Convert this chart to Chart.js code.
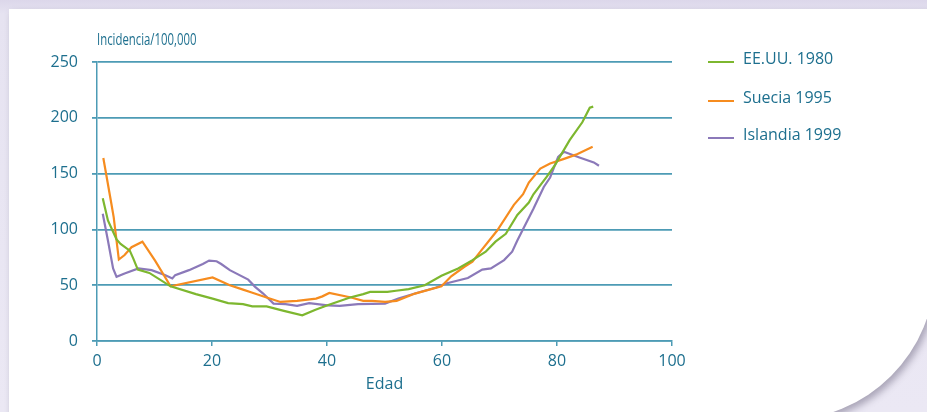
<!DOCTYPE html>
<html>
<head>
<meta charset="utf-8">
<script src="https://cdn.jsdelivr.net/npm/chart.js@4.4.1/dist/chart.umd.min.js"></script>
<style>
  html, body { margin: 0; padding: 0; }
  body {
    width: 927px; height: 412px; overflow: hidden; position: relative;
    background: linear-gradient(180deg, #dcd7ea 0px, #e6e3f1 14px, #ebe8f4 100%);
  }
  #panel {
    position: absolute; left: 9px; top: 9px; width: 926px; height: 411px;
    background: #fff;
    border-bottom-right-radius: 150px;
    box-shadow: 3px 4px 7px rgba(90, 85, 110, 0.45);
  }
  #wrap { position: absolute; left: 0; top: 0; width: 927px; height: 412px; }
</style>
</head>
<body>
<div id="panel"></div>
<div id="wrap"><canvas id="incChart" width="927" height="412"></canvas></div>
<script>
// Age (x) and incidence per 100,000 (y)
const ageUS = [1, 1.9, 3.4, 4.1, 5.7, 6.3, 7.1, 9.1, 12.8, 17.2, 20.1, 22.8, 25.4, 27, 29.5, 32.5, 35.7, 38, 40.1, 44, 46.3, 47.5, 50.5, 52, 54.2, 57, 59.9, 62.8, 65.3, 67.6, 69.3, 71.1, 73.1, 75.1, 75.9, 78.2, 79.7, 82.2, 84.4, 85.7, 86.3];
const incUS = [128, 108, 91, 87, 81, 74, 64, 61, 49, 42, 38, 34, 33, 31, 31, 27, 23, 28, 32, 39, 42, 44, 44, 45, 46.5, 50, 58.5, 65, 72.5, 80, 89, 96, 113, 124, 131.5, 147, 158, 180, 196, 209, 210];

const ageSE = [1.1, 2.5, 2.9, 3.8, 4.8, 6, 7.9, 10.1, 12.8, 20.1, 23.1, 25.4, 26.9, 29.5, 31.9, 34.8, 38.1, 39.2, 40.4, 44.2, 46.3, 47.8, 50.1, 52.1, 55.3, 59.9, 61.6, 63.9, 65.3, 66.8, 69.6, 72.5, 74.1, 75.1, 77.1, 78.8, 81.1, 83.3, 86.2];
const incSE = [164, 123, 111, 73, 77, 84, 89, 72, 49, 57, 50, 46, 43.5, 39, 35, 36, 38, 40, 43, 39, 36, 36, 35, 36, 42.5, 49, 58, 66.5, 71, 81, 99, 122, 131.5, 142, 154.5, 159, 163, 167, 174];

const ageIS = [1, 1.9, 2.8, 3.4, 4.8, 7.2, 9.5, 11.9, 13.1, 13.6, 16, 18.4, 19.5, 20.8, 21.6, 23.1, 26.3, 27.5, 28.9, 30.7, 32.8, 34.8, 36.9, 40.1, 42.2, 45.4, 50.1, 52.4, 55.3, 59, 60.7, 64.5, 67, 68.5, 70.8, 72.2, 73.1, 75.9, 77.7, 78.8, 80.2, 81.2, 83.9, 86.4, 87.3];
const incIS = [114, 90, 65, 57.5, 60.5, 65, 63.5, 59, 56, 59, 63.5, 69, 72, 71.5, 69, 63.5, 55, 48.5, 42.5, 33.5, 33, 31.5, 34, 32, 31.5, 33, 33.5, 38, 42.5, 48, 51.5, 56.5, 64, 65, 72.5, 80, 90, 118.5, 138, 146.5, 165, 169.5, 164.5, 160, 157];

const seriesNames = ['EE.UU. 1980', 'Suecia 1995', 'Islandia 1999'];
const yTicks = [0, 50, 100, 150, 200, 250];
const xTicks = [0, 20, 40, 60, 80, 100];
const yTitle = 'Incidencia/100,000';
const xTitle = 'Edad';

const teal = '#1d6f8e';
const gridTeal = '#4d9bb5';
const colors = ['#7db72f', '#f68c1f', '#8b79b9'];
const fontFamily = "'Open Sans', sans-serif";

function toPoints(xs, ys) {
    return xs.map((x, i) => ({ x: x, y: ys[i] }));
}

// y axis caption at the top and legend on the right
const extras = {
    id: 'extras',
    afterDraw(chart) {
        const ctx = chart.ctx;
        const area = chart.chartArea;
        ctx.save();
        ctx.fillStyle = teal;
        ctx.textBaseline = 'middle';
        ctx.textAlign = 'left';
        // condensed look of the original caption
        ctx.save();
        ctx.translate(area.left, 40);
        ctx.scale(0.71, 1);
        ctx.font = '16px ' + fontFamily;
        ctx.fillText(yTitle, 0, 0);
        ctx.restore();

        const legendY = [59, 98, 135];
        ctx.font = '16px ' + fontFamily;
        chart.data.datasets.forEach((ds, i) => {
            ctx.strokeStyle = ds.borderColor;
            ctx.lineWidth = 2;
            ctx.beginPath();
            ctx.moveTo(708, legendY[i] + 3);
            ctx.lineTo(734, legendY[i] + 3);
            ctx.stroke();
            ctx.fillStyle = teal;
            ctx.fillText(ds.label, 743, legendY[i]);
        });
        ctx.restore();
    }
};

const ctx = document.getElementById('incChart').getContext('2d');
new Chart(ctx, {
    type: 'line',
    data: {
        datasets: [
            { label: seriesNames[0], data: toPoints(ageUS, incUS), borderColor: colors[0] },
            { label: seriesNames[1], data: toPoints(ageSE, incSE), borderColor: colors[1] },
            { label: seriesNames[2], data: toPoints(ageIS, incIS), borderColor: colors[2] }
        ]
    },
    options: {
        responsive: false,
        animation: false,
        layout: { padding: { left: 0, right: 255, top: 62, bottom: 14 } },
        elements: {
            line: { borderWidth: 2.2, tension: 0, fill: false },
            point: { radius: 0 }
        },
        plugins: {
            legend: { display: false },
            tooltip: { enabled: false }
        },
        scales: {
            x: {
                type: 'linear',
                min: xTicks[0],
                max: xTicks[xTicks.length - 1],
                afterBuildTicks: axis => { axis.ticks = xTicks.map(v => ({ value: v })); },
                afterFit: axis => { axis.height = 57; },
                grid: { drawOnChartArea: false, drawTicks: true, tickLength: 5, color: gridTeal, lineWidth: 1.5 },
                border: { display: true, color: gridTeal, width: 1.5 },
                ticks: { color: teal, padding: 6, font: { family: fontFamily, size: 16 } },
                title: { display: true, text: xTitle, color: teal, padding: { top: 0 }, font: { family: fontFamily, size: 16 } }
            },
            y: {
                min: yTicks[0],
                max: yTicks[yTicks.length - 1],
                afterBuildTicks: axis => { axis.ticks = yTicks.map(v => ({ value: v })); },
                afterFit: axis => { axis.width = 97; },
                grid: { color: gridTeal, lineWidth: 1.8, drawTicks: true, tickLength: 5 },
                border: { display: true, color: gridTeal, width: 1.5 },
                ticks: { color: teal, padding: 14, font: { family: fontFamily, size: 16 } }
            }
        }
    },
    plugins: [extras]
});
</script>
</body>
</html>
